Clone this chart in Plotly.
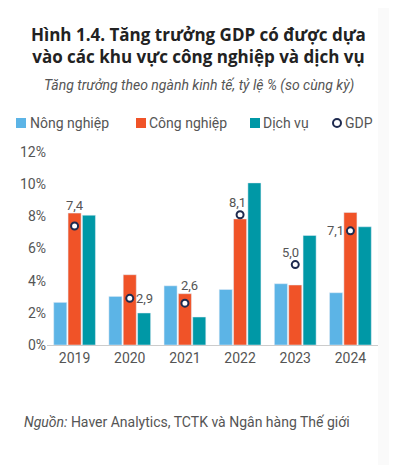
import plotly.graph_objects as go

years = ["2019", "2020", "2021", "2022", "2023", "2024"]
nong_nghiep = [2.65, 3.02, 3.68, 3.45, 3.81, 3.25]
cong_nghiep = [8.2, 4.37, 3.19, 7.84, 3.73, 8.24]
dich_vu = [8.07, 1.99, 1.74, 10.08, 6.81, 7.35]
gdp = [7.4, 2.9, 2.6, 8.1, 5.0, 7.1]
gdp_labels = ["7,4", "2,9", "2,6", "8,1", "5,0", "7,1"]
series_names = ["Nông nghiệp", "Công nghiệp", "Dịch vụ", "GDP"]
y_ticks = [0, 2, 4, 6, 8, 10, 12]
y_tick_labels = ["0%", "2%", "4%", "6%", "8%", "10%", "12%"]

# label offsets (px) relative to each GDP marker
label_dx = [0, 15, 5, -3, -5, -15]
label_dy = [20, 0, 18, 12.5, 12, 0]

C_AG = "#5CB4E6"
C_IN = "#F05328"
C_SV = "#0098A6"
C_GDP = "#1E2A4F"
GRAY = "#555555"
FONT = "Roboto"

W, H = 397, 465
OFF = 8  # page offset of the figure (body margin)
# target page-pixel positions of the plot area
PL, PR, PT, PB = 47, 378, 152, 345
L, R, T, B = PL - OFF, W - (PR - OFF), PT - OFF, H - (PB - OFF)
PW, PH = W - L - R, H - T - B


def px_x(x):
    return (x - OFF - L) / PW


def px_y(y):
    return (H - B - (y - OFF)) / PH


fig = go.Figure()
fig.add_trace(go.Bar(name=series_names[0], x=years, y=nong_nghiep, marker_color=C_AG))
fig.add_trace(go.Bar(name=series_names[1], x=years, y=cong_nghiep, marker_color=C_IN))
fig.add_trace(go.Bar(name=series_names[2], x=years, y=dich_vu, marker_color=C_SV))
fig.add_trace(go.Scatter(
    name=series_names[3], x=years, y=gdp, mode="markers",
    marker=dict(symbol="circle", size=7, color="white", line=dict(color=C_GDP, width=2)),
))

fig.update_layout(
    width=W, height=H,
    margin=dict(l=L, r=R, t=T, b=B, autoexpand=False),
    paper_bgcolor="white", plot_bgcolor="white",
    barmode="group", bargap=0.22, bargroupgap=0.09,
    font=dict(family=FONT, color=GRAY, size=13),
    showlegend=False,
    xaxis=dict(
        type="category", range=[-0.5, len(years) - 0.5],
        showline=True, linecolor="#CCCCCC", linewidth=1, ticks="",
        tickfont=dict(size=14, color=GRAY, family=FONT), showgrid=False,
    ),
    yaxis=dict(
        range=[0, 12], tickvals=y_ticks, ticktext=y_tick_labels,
        showgrid=False, zeroline=False, showline=False,
        tickfont=dict(size=14, color=GRAY, family=FONT),
    ),
)

for i, (v, lab, dx, dy) in enumerate(zip(gdp, gdp_labels, label_dx, label_dy)):
    fig.add_annotation(
        x=i, y=v, xref="x", yref="y", text=lab, showarrow=False,
        xshift=dx, yshift=dy, xanchor="center", yanchor="middle",
        font=dict(size=13, color=GRAY, family=FONT),
    )

# legend row (drawn manually to match the reference spacing)
leg_y = 123
leg_sym_x = [21, 141, 255, 337]
leg_txt_x = [30, 149, 263, 345]
leg_colors = [C_AG, C_IN, C_SV]
for i, name in enumerate(series_names):
    cx = leg_sym_x[i]
    if i < 3:
        fig.add_shape(
            type="rect", xref="paper", yref="paper",
            x0=px_x(cx - 5), x1=px_x(cx + 5), y0=px_y(leg_y + 5), y1=px_y(leg_y - 5),
            fillcolor=leg_colors[i], line=dict(width=0),
        )
    else:
        fig.add_shape(
            type="circle", xref="paper", yref="paper",
            x0=px_x(cx - 4), x1=px_x(cx + 4), y0=px_y(leg_y + 4), y1=px_y(leg_y - 4),
            fillcolor="white", line=dict(width=2, color=C_GDP),
        )
    fig.add_annotation(
        xref="paper", yref="paper", x=px_x(leg_txt_x[i] - 2), y=px_y(leg_y),
        text=name, showarrow=False, xanchor="left", yanchor="middle",
        font=dict(size=14, color=GRAY, family=FONT),
    )

fig.add_annotation(
    xref="paper", yref="paper", x=px_x(198.5), y=px_y(45.5),
    text="<b>Hình 1.4. Tăng trưởng GDP có được dựa<br>vào các khu vực công nghiệp và dịch vụ</b>",
    showarrow=False, xanchor="center", yanchor="middle",
    font=dict(size=17, color="#222222", family="Open Sans"), align="center",
)
fig.add_annotation(
    xref="paper", yref="paper", x=px_x(198.5), y=px_y(85),
    text="<i>Tăng trưởng theo ngành kinh tế, tỷ lệ % (so cùng kỳ)</i>",
    showarrow=False, xanchor="center", yanchor="middle",
    font=dict(size=14, color=GRAY, family=FONT),
)
fig.add_annotation(
    xref="paper", yref="paper", x=px_x(22), y=px_y(421.5), xanchor="left", yanchor="middle",
    text="<i>Nguồn:</i> Haver Analytics, TCTK và Ngân hàng Thế giới",
    showarrow=False, font=dict(size=14, color=GRAY, family=FONT),
)

fig.add_shape(
    type="rect", xref="paper", yref="paper", layer="below",
    x0=px_x(378), x1=px_x(W + 10), y0=px_y(H + 10), y1=px_y(-10),
    fillcolor="#FAFAFA", line=dict(width=0),
)

fig.write_html("out.html")
